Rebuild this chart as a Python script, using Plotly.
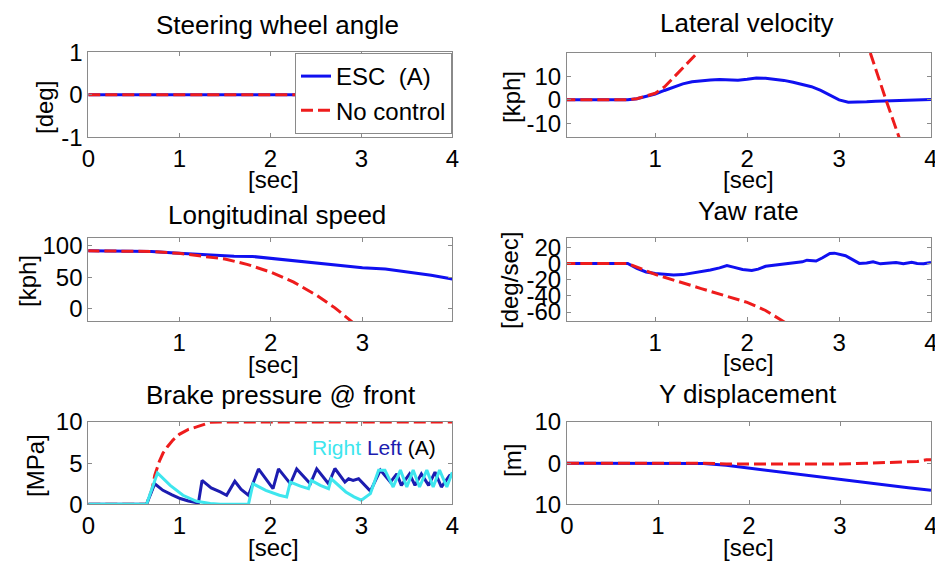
import plotly.graph_objects as go

# ---------------- data ----------------
# Steering wheel angle
t_steer = [0, 4]
steer_esc = [0, 0]
steer_nc = [0, 0]

# Lateral velocity [kph]
t_lat_esc = [0, 0.7, 0.8, 0.9, 1.0, 1.1, 1.2, 1.3, 1.4, 1.5, 1.6, 1.7, 1.8, 1.9, 2.0, 2.1, 2.2,
             2.3, 2.4, 2.5, 2.6, 2.7, 2.8, 2.9, 3.0, 3.1, 3.2, 3.3, 3.4, 3.5, 3.6, 3.7, 3.8, 3.9, 4.0]
lat_esc = [0, 0, 0.5, 1.4, 2.5, 4.0, 5.5, 6.8, 7.7, 8.2, 8.5, 8.7, 8.7, 8.4, 8.8, 9.3, 9.2,
           8.9, 8.3, 7.5, 6.6, 5.6, 4.0, 2.0, 0.0, -1.0, -1.0, -0.8, -0.6, -0.5, -0.4, -0.3, -0.3, -0.2, 0.1]
t_lat_nc = [0, 0.7, 0.8, 0.9, 1.0, 1.1, 1.2, 1.3, 1.43, 1.6, 2.0, 2.5, 3.0, 3.2, 3.34, 3.51, 3.65, 3.8, 4.0]
lat_nc = [0, 0, 0.5, 1.5, 2.8, 5.5, 9.8, 14.2, 20, 28, 42, 52, 46, 33, 20, 0, -16, -33, -55]

# Longitudinal speed [kph]
t_lon_esc = [0, 0.3, 0.7, 1.0, 1.3, 1.6, 1.8, 2.0, 2.25, 2.5, 2.75, 3.0, 3.25, 3.5, 3.75, 3.98]
lon_esc = [92, 92, 91, 88, 85.5, 83.5, 83, 80, 76, 72, 68, 65, 63, 58, 53, 47]
t_lon_nc = [0, 0.3, 0.7, 1.0, 1.25, 1.5, 1.75, 2.0, 2.25, 2.5, 2.7, 2.9, 3.0]
lon_nc = [92, 92, 91, 88, 84, 79, 70, 58, 42, 21, 1, -22, -35]

# Yaw rate [deg/sec]
t_yaw_esc = [0, 0.7, 0.8, 0.9, 1.0, 1.1, 1.2, 1.3, 1.4, 1.5, 1.6, 1.7, 1.78, 1.85, 1.95, 2.05, 2.12,
             2.2, 2.3, 2.4, 2.5, 2.6, 2.65, 2.75, 2.82, 2.9, 2.95, 3.07, 3.22, 3.3, 3.37, 3.45, 3.55,
             3.62, 3.7, 3.79, 3.85, 3.92, 4.0]
yaw_esc = [0, 0, -6, -10.5, -12.3, -13, -14.2, -13.8, -12, -10, -8, -5.5, -2.5, -4.5, -7.5, -8.6, -7,
           -3.5, -2, -1, 0.5, 2, 4, 3, 7, 12.3, 12.7, 9.5, 0, 0.5, 2, -0.5, 0.5,
           1.2, -0.5, 1.5, 0, -0.5, 1.2]
t_yaw_nc = [0, 0.7, 0.9, 1.0, 1.5, 2.0, 2.2, 2.4, 2.6]
yaw_nc = [0, 0, -9, -13.6, -31, -48, -58, -72, -86]

# Brake pressure @ front [MPa]
t_brk_nc = [0, 0.64, 0.7, 0.73, 0.78, 0.82, 0.87, 0.93, 1.0, 1.1, 1.19, 1.27, 1.34, 1.45, 4.0]
brk_nc = [0, 0, 1.8, 3.5, 5.2, 6.2, 7.0, 7.8, 8.5, 9.1, 9.4, 9.75, 9.96, 10, 10]
t_brk_left = [0, 0.64, 0.73, 0.82, 0.92, 1.01, 1.1, 1.19, 1.21, 1.25, 1.35, 1.45, 1.52, 1.61, 1.68,
              1.76, 1.87, 2.03, 2.09, 2.22, 2.29, 2.44, 2.51, 2.64, 2.71, 2.82, 2.86, 2.91, 2.97,
              3.10, 3.21, 3.32, 3.39, 3.44, 3.53, 3.59, 3.66, 3.74, 3.81, 3.88, 3.97, 4.0]
brk_left = [0, 0, 2.5, 1.7, 1.15, 0.7, 0.4, 0.15, 0.15, 2.9, 2.0, 1.5, 1.1, 2.8, 1.8,
            1.1, 4.3, 1.9, 4.3, 2.5, 4.3, 2.5, 4.3, 2.5, 4.35, 2.7, 3.1, 2.9, 3.1,
            1.6, 4.15, 2.7, 3.7, 2.3, 3.7, 2.3, 3.7, 2.3, 3.9, 2.1, 3.5, 3.6]
t_brk_right = [0, 0.64, 0.76, 0.9, 1.04, 1.19, 1.34, 1.45, 1.76, 1.81, 1.95, 2.1, 2.18, 2.22, 2.33,
               2.42, 2.45, 2.55, 2.64, 2.67, 2.83, 2.92, 3.0, 3.10, 3.19, 3.26, 3.35, 3.43, 3.50,
               3.57, 3.64, 3.72, 3.79, 3.86, 3.94, 4.0]
brk_right = [0, 0, 3.8, 2.3, 1.1, 0.37, 0.1, 0, 0, 2.5, 1.7, 1.1, 0.9, 2.7, 2.2,
             1.9, 2.9, 2.3, 1.9, 3.1, 1.5, 0.9, 0.5, 1.3, 4.15, 4.15, 2.1, 4.15, 2.1,
             4.15, 2.1, 4.15, 2.1, 4.15, 2.1, 3.9]

# Y displacement [m]
t_ydisp_esc = [0, 1.0, 1.5, 1.75, 2.0, 2.25, 2.5, 2.75, 3.0, 3.25, 3.5, 3.75, 4.0]
ydisp_esc = [0, 0, -0.1, -0.5, -1.2, -1.9, -2.6, -3.3, -4.0, -4.6, -5.3, -6.0, -6.6]
t_ydisp_nc = [0, 1.5, 1.75, 2.0, 2.5, 3.0, 3.3, 3.5, 3.7, 3.85, 3.95, 4.0]
ydisp_nc = [0, 0, -0.2, -0.2, -0.2, -0.2, 0, 0.1, 0.3, 0.4, 0.8, 0.8]

titles = ["Steering wheel angle", "Lateral velocity", "Longitudinal speed",
          "Yaw rate", "Brake pressure @ front", "Y displacement"]
ylabels = ["[deg]", "[kph]", "[kph]", "[deg/sec]", "[MPa]", "[m]"]
xlabel = "[sec]"

# ---------------- styling / layout ----------------
W, H = 935, 561
FONT = "Arial, Liberation Sans, sans-serif"
BLUE = "#1010f0"
RED = "#ee1c1c"
DARKBLUE = "#1c1cb0"
CYAN = "#3ee6ee"
FRAME = "#8a8a8a"

def px(x):
    return x / W

def py(y):
    return 1 - y / H

# plot boxes in pixels: (left, right, top, bottom)
boxes = [(88.3, 452.3, 52.3, 137.3), (567, 931, 53, 137.3),
         (88.3, 452.3, 238.3, 321), (567, 931, 238.3, 321),
         (88.3, 452.3, 422, 504.3), (567, 931, 422, 504.3)]

fig = go.Figure()

def add(i, x, y, color, dash=None, name=None, show=False, width=3):
    fig.add_trace(go.Scatter(
        x=x, y=y, mode="lines", name=name, showlegend=show,
        line=dict(color=color, width=width, dash=dash),
        xaxis="x" if i == 1 else f"x{i}", yaxis="y" if i == 1 else f"y{i}"))

DASH = "12px,5px"
add(1, t_steer, steer_esc, BLUE, name="ESC\u00a0 (A)", show=True)
add(1, t_steer, steer_nc, RED, dash=DASH, name="No control", show=True)
add(2, t_lat_esc, lat_esc, BLUE)
add(2, t_lat_nc, lat_nc, RED, dash=DASH)
add(3, t_lon_esc, lon_esc, BLUE)
add(3, t_lon_nc, lon_nc, RED, dash=DASH)
add(4, t_yaw_esc, yaw_esc, BLUE)
add(4, t_yaw_nc, yaw_nc, RED, dash=DASH)
add(5, t_brk_nc, brk_nc, RED, dash=DASH)
add(5, t_brk_left, brk_left, DARKBLUE)
add(5, t_brk_right, brk_right, CYAN)
add(6, t_ydisp_esc, ydisp_esc, BLUE)
add(6, t_ydisp_nc, ydisp_nc, RED, dash=DASH)

xranges = [[0, 4], [0.04, 4], [0.01, 3.98], [0.04, 4], [0, 4], [0, 4]]
xticks = [[0, 1, 2, 3, 4], [1, 2, 3, 4], [1, 2, 3], [1, 2, 3, 4], [0, 1, 2, 3, 4], [0, 1, 2, 3, 4]]
yranges = [[-1, 1], [-16, 20], [-20, 112], [-71, 31], [0, 10], [-10, 10]]
yticks = [[-1, 0, 1], [-10, 0, 10], [0, 50, 100], [-60, -40, -20, 0, 20], [0, 5, 10], [-10, 0, 10]]
yticktext = [["-1", "0", "1"], ["-10", "0", "10"], ["0", "50", "100"],
             ["-60", "-40", "-20", "0", "20"], ["0", "5", "10"], ["10", "0", "10"]]

axis_common = dict(showgrid=False, zeroline=False, showline=True, linecolor=FRAME, linewidth=1,
                   mirror="ticks", ticks="inside", ticklen=4, tickcolor=FRAME, automargin=False,
                   ticklabeloverflow="allow",
                   tickfont=dict(size=24, color="black", family=FONT))

layout = dict(width=W, height=H, margin=dict(l=0, r=0, t=0, b=0, pad=0, autoexpand=False),
              paper_bgcolor="white", plot_bgcolor="white", font=dict(family=FONT, color="black"))

for i, (l, r, t, b) in enumerate(boxes, start=1):
    xk = "xaxis" if i == 1 else f"xaxis{i}"
    yk = "yaxis" if i == 1 else f"yaxis{i}"
    layout[xk] = dict(domain=[px(l), px(r)], range=xranges[i - 1], tickvals=xticks[i - 1],
                      anchor="y" if i == 1 else f"y{i}", **axis_common)
    layout[yk] = dict(domain=[py(b), py(t)], range=yranges[i - 1], tickvals=yticks[i - 1],
                      ticktext=yticktext[i - 1], anchor="x" if i == 1 else f"x{i}", **axis_common)

fig.update_layout(**layout)

# titles and axis labels
title_pos = [(277, 25), (746, 23), (277, 215), (748, 211), (281, 395), (748, 394)]
xlab_pos = [(273, 180), (748, 179), (273, 364), (748, 362), (273, 547), (748, 547)]
ylab_pos = [(44, 108), (512, 97), (27, 281), (510, 280), (35, 466), (512, 461)]
ann = []
for i in range(6):
    ann.append(dict(text=titles[i], x=px(title_pos[i][0]), y=py(title_pos[i][1]), xref="paper",
                    yref="paper", showarrow=False, xanchor="center", yanchor="middle",
                    font=dict(size=26, family=FONT, color="black")))
    ann.append(dict(text=xlabel, x=px(xlab_pos[i][0]), y=py(xlab_pos[i][1]), xref="paper",
                    yref="paper", showarrow=False, xanchor="center", yanchor="middle",
                    font=dict(size=24, family=FONT, color="black")))
    ann.append(dict(text=ylabels[i], x=px(ylab_pos[i][0]), y=py(ylab_pos[i][1]), xref="paper",
                    yref="paper", showarrow=False, xanchor="center", yanchor="middle", textangle=-90,
                    font=dict(size=24, family=FONT, color="black")))
ann.append(dict(text=f'<span style="color:{CYAN}">Right</span> <span style="color:{DARKBLUE}">Left</span> (A)',
                x=px(310), y=py(447), xref="paper", yref="paper", showarrow=False,
                xanchor="left", yanchor="middle", font=dict(size=21, family=FONT, color="black")))
fig.update_layout(annotations=ann)

fig.update_layout(legend=dict(x=px(295), y=py(53), xanchor="left", yanchor="top",
                              bgcolor="white", bordercolor=FRAME, borderwidth=1,
                              font=dict(size=24, family=FONT, color="black"),
                              itemwidth=30, tracegroupgap=0))

fig.write_html("out.html", config={"displayModeBar": False},
               post_script="document.body.style.margin='0';document.body.style.overflow='hidden';")
